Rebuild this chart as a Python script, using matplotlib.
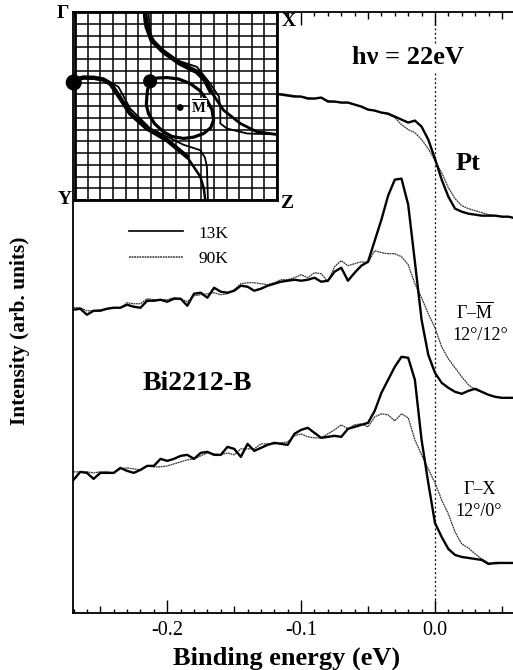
import matplotlib
matplotlib.use('Agg')
import matplotlib.pyplot as plt
from matplotlib.ticker import FixedLocator

plt.rcParams['font.family'] = ['Liberation Serif', 'DejaVu Serif']
plt.rcParams['mathtext.fontset'] = 'custom'
plt.rcParams['mathtext.rm'] = 'Liberation Serif'
plt.rcParams['mathtext.bf'] = 'Liberation Serif:bold'

# binding energy grid (eV)
energy = [-0.270, -0.265, -0.260, -0.255, -0.250, -0.245, -0.240, -0.235, -0.230, -0.225,
          -0.220, -0.215, -0.210, -0.205, -0.200, -0.195, -0.190, -0.185, -0.180, -0.175,
          -0.170, -0.165, -0.160, -0.155, -0.150, -0.145, -0.140, -0.135, -0.130, -0.125,
          -0.120, -0.115, -0.110, -0.105, -0.100, -0.095, -0.090, -0.085, -0.080, -0.075,
          -0.070, -0.065, -0.060, -0.055, -0.050, -0.045, -0.040, -0.035, -0.030, -0.025,
          -0.020, -0.015, -0.010, -0.005, 0.000, 0.005, 0.010, 0.015, 0.020, 0.025,
          0.030, 0.035, 0.040, 0.045, 0.050, 0.055, 0.058]
energy_pt = energy[30:]

pt_13k = [519, 518, 517, 516, 516, 514, 514, 515, 511, 511, 510, 510, 508, 506, 503, 502, 500, 499,
          496, 493, 490, 492, 486, 473, 454, 433, 416, 404, 401, 399, 398, 397, 397, 397, 396, 396, 395]
pt_90k = [519, 519, 518, 517, 516, 515, 514, 515, 512, 511, 510, 510, 508, 506, 503, 502, 500, 498,
          495, 488, 483, 480, 473, 464, 452, 440, 425, 414, 407, 404, 402, 400, 398, 397, 396, 396, 395]

gm_13k = [303, 304, 298, 302, 302, 304, 305, 305, 308, 306, 305, 312, 312, 313, 311, 314, 314, 307,
          319, 320, 315, 325, 321, 320, 322, 327, 326, 322, 324, 327, 329, 331, 332, 333, 332, 333,
          335, 331, 332, 341, 345, 332, 340, 347, 351, 372, 393, 417, 433, 434, 408, 351, 293, 258,
          240, 230, 225, 221, 219, 222, 224, 221, 218, 216, 215, 215, 215]
gm_90k = [305, 305, 302, 302, 303, 304, 305, 305, 310, 309, 309, 314, 313, 313, 313, 315, 314, 311,
          317, 318, 319, 320, 318, 319, 323, 329, 330, 330, 329, 328, 330, 333, 333, 335, 338, 335,
          340, 339, 331, 346, 352, 347, 349, 351, 350, 362, 360, 359, 359, 356, 348, 329, 315, 299,
          285, 266, 254, 245, 236, 228, 223, 221, 218, 216, 215, 215, 215]

gx_13k = [133, 141, 140, 134, 140, 140, 140, 145, 142, 140, 143, 147, 147, 154, 152, 154, 157, 158,
          154, 160, 161, 158, 158, 166, 164, 156, 169, 162, 165, 168, 170, 169, 168, 179, 183, 185,
          180, 175, 176, 177, 176, 184, 186, 188, 190, 202, 220, 233, 246, 256, 255, 233, 173, 130,
          90, 76, 64, 58, 56, 55, 54, 53, 49, 50, 50, 50, 50]
gx_90k = [141, 141, 141, 140, 141, 141, 140, 144, 145, 144, 143, 147, 146, 146, 147, 149, 151, 153,
          154, 157, 160, 159, 158, 160, 158, 164, 164, 164, 169, 169, 169, 170, 171, 177, 179, 176,
          175, 175, 179, 183, 188, 184, 188, 189, 186, 196, 199, 198, 192, 199, 195, 173, 158, 144,
          130, 113, 99, 81, 69, 65, 59, 54, 50, 49, 50, 50, 50]

x_major = [-0.2, -0.1, 0.0]
x_labels = ['-0.2', '-0.1', '0.0']
x_medium = [-0.25, -0.15, -0.05, 0.05]
x_minor = [-0.27, -0.26, -0.24, -0.23, -0.22, -0.21, -0.19, -0.18, -0.17, -0.16, -0.14, -0.13,
           -0.12, -0.11, -0.09, -0.08, -0.07, -0.06, -0.04, -0.03, -0.02, -0.01,
           0.01, 0.02, 0.03, 0.04]

# inset: Fermi surface sketch, in grid cells
fs_outer_x = [5.55, 5.6, 5.69, 6.08, 7.01, 8.33, 9.66, 10.3, 10.71, 11.77, 13.1, 14.42, 16]
fs_outer_y = [0, 0.7, 1.27, 2.41, 3.4, 4.39, 5.1, 5.8, 6.66, 8.36, 9.49, 10.2, 10.42]
fs_outer2_x = [5.82, 5.95, 6.48, 8.07, 9.66, 10.71, 11.4, 11.51, 11.51, 12.04, 13.62, 16]
fs_outer2_y = [0, 1.84, 2.83, 4.11, 4.67, 6.09, 7.2, 8.2, 9.49, 9.92, 10.34, 10.42]
fs_left_x = [-0.1, 0.66, 1.5, 2.25, 2.8, 3.17, 4.37, 5.69, 7.28, 8.86, 9.92, 10.2, 10.32]
fs_left_y = [5.8, 5.58, 5.6, 5.75, 6.1, 6.66, 8.64, 9.9, 10.9, 12.3, 14.0, 15, 16]
fs_left2_x = [2.25, 3.44, 4.37, 5.95, 8.6, 9.92, 10.3, 10.45, 10.53]
fs_left2_y = [5.67, 6.37, 8.22, 9.9, 11.3, 11.76, 12.4, 13.2, 16]
fs_loop_x = [5.82, 6.5, 7.28, 8.2, 9.13, 9.9, 10.45, 10.85, 10.98, 10.75, 10.19, 9.4, 8.6, 7.7,
             7.01, 6.3, 5.82, 5.65, 5.69, 5.75, 5.95, 5.82]
fs_loop_y = [5.81, 5.62, 5.58, 5.7, 6.09, 6.7, 7.51, 8.3, 9.2, 9.85, 10.34, 10.65, 10.76, 10.6,
             10.2, 9.5, 8.64, 7.9, 7.22, 6.6, 6.09, 5.81]
fs_dots_x = [-0.1, 5.95, 8.33]
fs_dots_y = [6.0, 5.9, 8.13]
fs_dots_size = [112, 83, 15]
grid_cells = list(range(17))

W, H = 513, 670
fig = plt.figure(figsize=(W / 100, H / 100), dpi=100)
ax = fig.add_axes([73 / W, (H - 613) / H, 440 / W, 601 / H])

ax.vlines(0, 0, 541, color='black', lw=0.9, ls=(0, (1.5, 2)), zorder=1)
ax.vlines(0, 570, 600, color='black', lw=0.9, ls=(0, (1.5, 2)), zorder=1)

for e, vals_90, vals_13 in [(energy_pt, pt_90k, pt_13k), (energy, gm_90k, gm_13k), (energy, gx_90k, gx_13k)]:
    ax.plot(e, vals_90, color='#333333', lw=0.9, ls=(0, (1.5, 0.5)), zorder=2)
    ax.plot(e, vals_13, color='black', lw=1.7, solid_joinstyle='round', zorder=3)

ax.set_xlim(-0.2704, 0.0583)
ax.set_ylim(0, 600.5)
ax.set_yticks([])
ax.spines['right'].set_visible(False)
for s in ['left', 'bottom', 'top']:
    ax.spines[s].set_linewidth(1.3)

ax.xaxis.set_major_locator(FixedLocator(x_major))
ax.set_xticklabels(x_labels, fontsize=14.5)
ax.xaxis.set_minor_locator(FixedLocator(x_minor + x_medium))
ax.tick_params(axis='x', which='major', direction='in', top=True, length=9.5, width=1.0, pad=6)
ax.tick_params(axis='x', which='minor', direction='in', top=True, length=3, width=1.0)
for t in ax.xaxis.get_minor_ticks()[len(x_minor):]:
    t.tick1line.set_markersize(5)
    t.tick2line.set_markersize(5)

ax.set_xlabel('Binding energy (eV)', fontsize=19, fontweight='bold')
ax.xaxis.set_label_coords((287 - 73) / 440, (613 - 647) / 601)
ax.set_ylabel('Intensity (arb. units)', fontsize=15.4, fontweight='bold')
ax.yaxis.set_label_coords((30 - 73) / 440, (613 - 331) / 601)

# legend lines, placed like the original
h13, = ax.plot([], [], color='black', lw=1.2, label='13K')
h90, = ax.plot([], [], color='#333333', lw=1.1, ls=(0, (1.2, 0.5)), label='90K')
ax.legend(handles=[h13, h90], loc='upper left', bbox_to_anchor=(0.127, 0.645), frameon=False,
          fontsize=12.5, handlelength=3.1, handletextpad=0.9, labelspacing=0.55, borderpad=0, borderaxespad=0)

def txt(px, py, s, **kw):
    fig.text(px / W, 1 - py / H, s, ha=kw.pop('ha', 'center'), va='center', **kw)

txt(408, 58, 'h\u03bd = 22eV', fontsize=19, fontweight='bold')
txt(468, 163, 'Pt', fontsize=19, fontweight='bold')
txt(197, 383, 'Bi2212-B', fontsize=20, fontweight='bold')
txt(475, 312, '\u0393\u2013$\\overline{\\mathrm{M}}$', fontsize=13)
txt(480, 335, '12\u00b0/12\u00b0', fontsize=13)
txt(480, 489, '\u0393\u2013X', fontsize=13)
txt(479, 512, '12\u00b0/0\u00b0', fontsize=13)

# inset
ins = fig.add_axes([75 / W, (H - 200) / H, 202 / W, 188 / H], zorder=5)
ins.set_facecolor('white')
ins.set_xlim(0, 16)
ins.set_ylim(16, 0)
ins.set_xticks([])
ins.set_yticks([])
ins.vlines(grid_cells, 0, 16, color='black', lw=1.1)
ins.hlines(grid_cells, 0, 16, color='black', lw=1.1)
for s in ins.spines.values():
    s.set_linewidth(2.0)
ins.plot(fs_outer_x[:9], fs_outer_y[:9], color='black', lw=3.4, solid_joinstyle='round')
ins.plot(fs_outer_x[8:], fs_outer_y[8:], color='black', lw=2.0, solid_joinstyle='round')
ins.plot(fs_outer2_x, fs_outer2_y, color='black', lw=1.3, solid_joinstyle='round')
ins.plot(fs_left_x[:10], fs_left_y[:10], color='black', lw=3.2, solid_joinstyle='round', clip_on=False)
ins.plot(fs_left_x[9:], fs_left_y[9:], color='black', lw=1.8, solid_joinstyle='round')
ins.plot(fs_left2_x, fs_left2_y, color='black', lw=1.3, solid_joinstyle='round')
ins.plot(fs_loop_x, fs_loop_y, color='black', lw=2.3, solid_joinstyle='round')
ins.scatter(fs_dots_x, fs_dots_y, s=fs_dots_size, color='black', clip_on=False, zorder=6)
ins.text(9.8, 8.1, '$\\overline{\\mathbf{M}}$', fontsize=10.5, ha='center', va='center', zorder=7,
         bbox=dict(fc='white', ec='none', pad=0.3))

txt(63, 13, '\u0393', fontsize=14, fontweight='bold')
txt(289, 22, 'X', fontsize=14, fontweight='bold')
txt(65, 200, 'Y', fontsize=14, fontweight='bold')
txt(287, 203, 'Z', fontsize=14, fontweight='bold')

fig.savefig('out.png', dpi=100)
